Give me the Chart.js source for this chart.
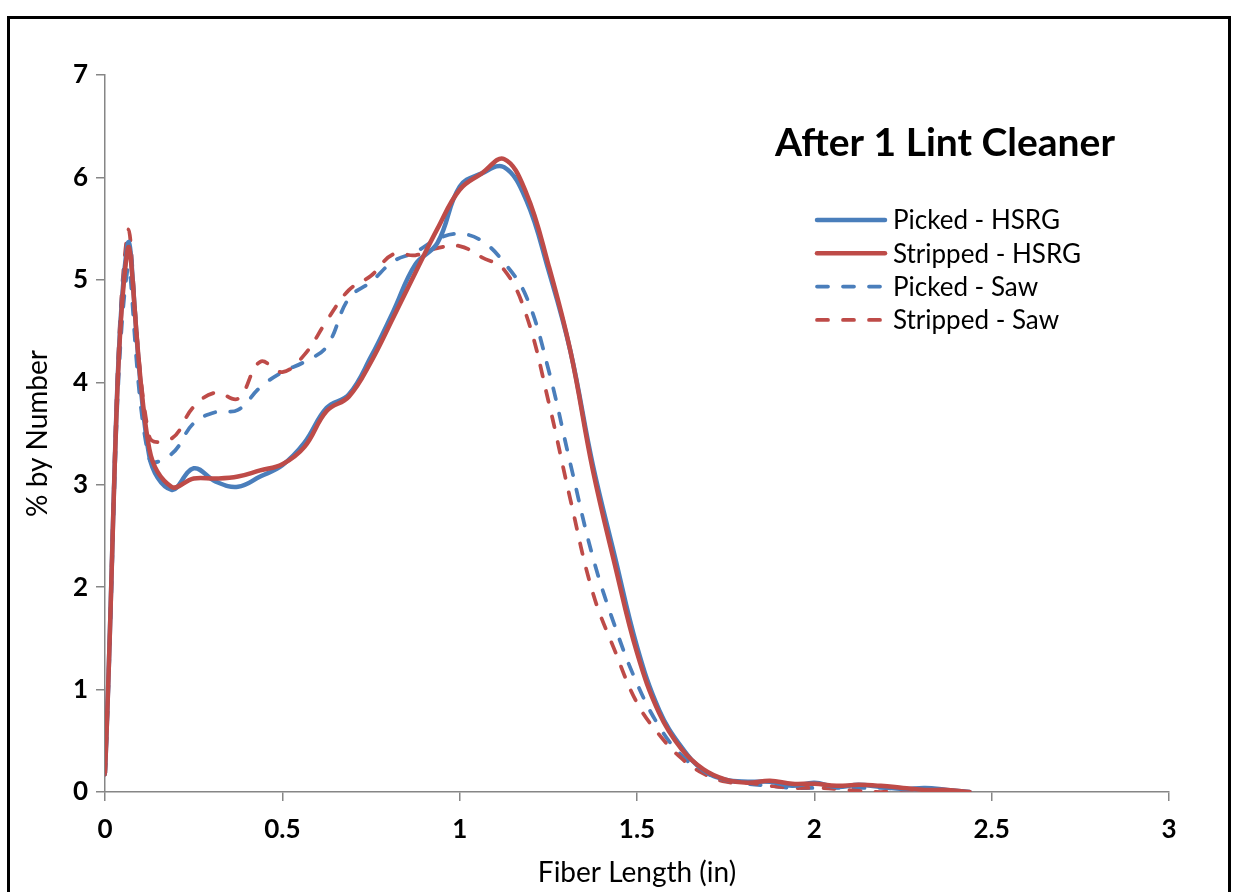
<!DOCTYPE html>
<html><head><meta charset="utf-8">
<script src="https://cdn.jsdelivr.net/npm/chart.js@4"></script>
<style>
html,body{margin:0;padding:0;background:#fff;overflow:hidden}
#wrap{position:relative;width:1235px;height:892px}
#frame{position:absolute;left:7px;top:16px;width:1218px;height:1000px;border:3px solid #000;pointer-events:none}
canvas{position:absolute;left:0;top:0}
</style></head><body>
<div id="wrap"><canvas id="c" width="1235" height="892"></canvas><div id="frame"></div></div>
<script>
// ---- data ----
const chartTitle = 'After 1 Lint Cleaner';
const xTitle = 'Fiber Length (in)';
const yTitle = '% by Number';
const seriesNames = ['Picked - HSRG', 'Stripped - HSRG', 'Picked - Saw', 'Stripped - Saw'];
const fiberLength = [0, 0.0625, 0.125, 0.1875, 0.25, 0.3125, 0.375, 0.4375, 0.5, 0.5625, 0.625, 0.6875, 0.75, 0.8125, 0.875, 0.9375, 1, 1.0625, 1.125, 1.1875, 1.25, 1.3125, 1.375, 1.4375, 1.5, 1.5625, 1.625, 1.6875, 1.75, 1.8125, 1.875, 1.9375, 2, 2.0625, 2.125, 2.1875, 2.25, 2.3125, 2.375, 2.4375];
const pickedHSRG = [0.19, 5.32, 3.28, 2.95, 3.16, 3.03, 2.98, 3.08, 3.19, 3.41, 3.75, 3.88, 4.25, 4.69, 5.15, 5.36, 5.91, 6.04, 6.10, 5.78, 5.10, 4.30, 3.20, 2.30, 1.42, 0.80, 0.44, 0.21, 0.12, 0.10, 0.10, 0.06, 0.09, 0.05, 0.07, 0.05, 0.03, 0.04, 0.02, 0.00];
const strippedHSRG = [0.19, 5.27, 3.35, 2.98, 3.06, 3.06, 3.08, 3.14, 3.20, 3.37, 3.72, 3.86, 4.20, 4.63, 5.07, 5.50, 5.88, 6.04, 6.18, 5.85, 5.15, 4.30, 3.15, 2.22, 1.36, 0.77, 0.42, 0.22, 0.12, 0.09, 0.11, 0.08, 0.08, 0.06, 0.07, 0.06, 0.04, 0.02, 0.02, 0.00];
const pickedSaw = [0.17, 5.08, 3.25, 3.30, 3.60, 3.71, 3.73, 3.95, 4.10, 4.20, 4.35, 4.82, 4.98, 5.18, 5.27, 5.40, 5.45, 5.38, 5.17, 4.84, 4.13, 3.20, 2.30, 1.62, 1.06, 0.64, 0.36, 0.20, 0.12, 0.08, 0.06, 0.04, 0.04, 0.04, 0.04, 0.04, 0.03, 0.02, 0.01, 0.00];
const strippedSaw = [0.17, 5.44, 3.47, 3.45, 3.76, 3.90, 3.84, 4.20, 4.10, 4.27, 4.60, 4.90, 5.04, 5.25, 5.24, 5.31, 5.33, 5.22, 5.10, 4.66, 3.82, 2.85, 1.95, 1.38, 0.87, 0.56, 0.33, 0.18, 0.10, 0.09, 0.06, 0.04, 0.04, 0.03, 0.01, 0.00, 0.02, 0.02, 0.01, 0.00];
const xTickLabels = ['0', '0.5', '1', '1.5', '2', '2.5', '3'];
const yTickLabels = ['0', '1', '2', '3', '4', '5', '6', '7'];

// ---- styles ----
const BLUE = '#4A7EBB', RED = '#BE4B48';
const FONT = 'Lato';
const toPts = ys => fiberLength.map((x, i) => ({x: x, y: ys[i]}));

const seriesValues = [pickedHSRG, strippedHSRG, pickedSaw, strippedSaw];
const seriesStyle = [
  {color: BLUE, width: 4.5, dash: [], order: 2},
  {color: RED, width: 4.5, dash: [], order: 1},
  {color: BLUE, width: 3.75, dash: [11, 15], order: 4},
  {color: RED, width: 3.75, dash: [11, 15], order: 3}
];

const datasets = seriesNames.map((name, i) => ({
  label: name,
  data: toPts(seriesValues[i]),
  borderColor: seriesStyle[i].color,
  backgroundColor: seriesStyle[i].color,
  borderWidth: seriesStyle[i].width,
  borderDash: seriesStyle[i].dash,
  borderCapStyle: 'round',
  borderJoinStyle: 'round',
  pointRadius: 0,
  tension: 0.4,
  fill: false,
  order: seriesStyle[i].order
}));

const overlay = {
  id: 'overlay',
  afterDraw(chart) {
    const ctx = chart.ctx;
    ctx.save();
    ctx.fillStyle = '#000';
    ctx.font = 'bold 39px ' + FONT;
    ctx.textAlign = 'center';
    ctx.textBaseline = 'middle';
    ctx.fillText(chartTitle, 945, 143);
    ctx.font = '26px ' + FONT;
    ctx.textAlign = 'left';
    chart.data.datasets.forEach((ds, i) => {
      const y = 220 + i * 33.3;
      ctx.strokeStyle = ds.borderColor;
      ctx.lineWidth = ds.borderWidth;
      ctx.lineCap = 'round';
      ctx.setLineDash(ds.borderDash || []);
      ctx.beginPath();
      ctx.moveTo(817, y);
      ctx.lineTo(885, y);
      ctx.stroke();
      ctx.setLineDash([]);
      ctx.fillText(ds.label, 893, y + 1);
    });
    ctx.restore();
  }
};

new Chart(document.getElementById('c'), {
  type: 'line',
  data: {datasets: datasets},
  options: {
    responsive: false,
    animation: false,
    devicePixelRatio: 1,
    layout: {padding: {top: 75, right: 66, left: 0, bottom: 0}},
    plugins: {legend: {display: false}, tooltip: {enabled: false}, title: {display: false}},
    scales: {
      x: {
        type: 'linear', min: 0, max: 3,
        ticks: {stepSize: 0.5, autoSkip: false, maxRotation: 0, color: '#000', padding: 13,
          font: {family: FONT, weight: 'bold', size: 26},
          callback: (v, i) => xTickLabels[i]},
        grid: {drawOnChartArea: false, drawTicks: true, tickLength: 9, color: '#868686', lineWidth: 1.5},
        border: {color: '#868686', width: 1.5},
        title: {display: true, text: xTitle, color: '#000', font: {family: FONT, size: 28}, padding: {top: 0, bottom: 2}},
        afterFit(s) { s.height = 100; }
      },
      y: {
        type: 'linear', min: 0, max: 7,
        ticks: {stepSize: 1, color: '#000', padding: 8,
          font: {family: FONT, weight: 'bold', size: 26},
          callback: (v, i) => yTickLabels[i]},
        grid: {drawOnChartArea: false, drawTicks: true, tickLength: 9, color: '#868686', lineWidth: 1.5},
        border: {color: '#868686', width: 1.5},
        title: {display: true, text: yTitle, color: '#000', font: {family: FONT, size: 28}, padding: {top: 21, bottom: 0}},
        afterFit(s) { s.width = 105; }
      }
    }
  },
  plugins: [overlay]
});
</script>
</body></html>
